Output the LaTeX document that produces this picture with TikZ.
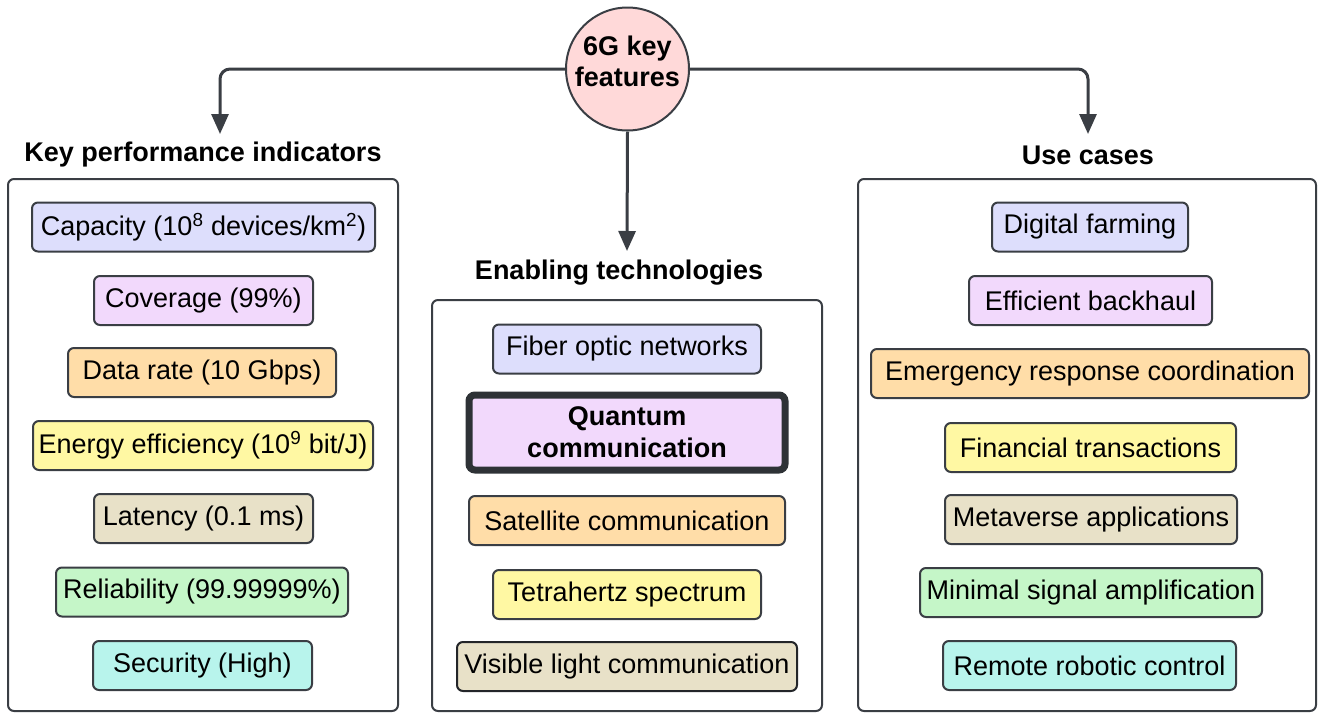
\documentclass[tikz,border=0pt]{standalone}
\usepackage{fontspec}
\setmainfont{Liberation Sans}
\usetikzlibrary{arrows.meta}

\definecolor{edge}{HTML}{3A3E44}
\definecolor{hubfill}{HTML}{FFD9D9}
\definecolor{cLav}{HTML}{DDDEFC}
\definecolor{cPink}{HTML}{F2D9FC}
\definecolor{cOrange}{HTML}{FFDDA8}
\definecolor{cYellow}{HTML}{FFF8A3}
\definecolor{cBeige}{HTML}{E8E1C8}
\definecolor{cGreen}{HTML}{C5F6C8}
\definecolor{cCyan}{HTML}{B8F4EC}

\tikzset{
  txt/.style={font=\fontsize{27}{31}\selectfont, text=black},
  heading/.style={font=\fontsize{27}{31}\selectfont\bfseries, text=black, inner sep=0pt},
  container/.style={draw=edge, line width=2pt, rounded corners=6pt, fill=white, inner sep=0pt},
  item/.style={txt, draw=edge, line width=2pt, rounded corners=6pt, inner sep=0pt, minimum height=49pt},
  conn/.style={draw=edge, line width=3pt, rounded corners=10pt, -{Triangle[width=17pt,length=20pt]}},
}

\begin{document}
\begin{tikzpicture}[x=1pt, y=-1pt]
\useasboundingbox (0,0) rectangle (1318,713);

% hub
\node[circle, draw=edge, line width=2pt, fill=hubfill, minimum size=123pt, inner sep=0pt] (hub) at (627.5,69) {};
\node[align=center, inner sep=0pt, font=\fontsize{27}{31}\selectfont\bfseries] (hubtext) at (627.5,61) {6G key\\features};

% containers
\node[container, minimum width=390pt, minimum height=532pt] (kpibox) at (203,445) {};
\node[container, minimum width=390pt, minimum height=411pt] (techbox) at (627,505.5) {};
\node[container, minimum width=458pt, minimum height=532pt] (usebox) at (1087,445) {};

% headings
\node[heading] (kpititle) at (203,155) {Key performance indicators};
\node[heading] (usetitle) at (1088,155) {Use cases};
\node[heading] (techtitle) at (619,273) {Enabling technologies};

% connectors
\coordinate (kpitip) at (220,134);
\coordinate (usetip) at (1088,134);
\coordinate (techtip) at (627,251);
\draw[conn] (hub.west) -| (kpitip);
\draw[conn] (hub.east) -| (usetip);
\draw[conn] (hub.south) -- (techtip);

% key performance indicators
\node[item, fill=cLav, minimum width=343pt] (k1) at (203.5,227) {Capacity (10\textsuperscript{8} devices/km\textsuperscript{2})};
\node[item, fill=cPink, minimum width=219pt] (k2) at (203.5,300.5) {Coverage (99\%)};
\node[item, fill=cOrange, minimum width=268pt] (k3) at (202,372.5) {Data rate (10 Gbps)};
\node[item, fill=cYellow, minimum width=340pt] (k4) at (203,445.5) {Energy efficiency (10\textsuperscript{9} bit/J)};
\node[item, fill=cBeige, minimum width=219pt] (k5) at (203.5,518.5) {Latency (0.1 ms)};
\node[item, fill=cGreen, minimum width=292pt] (k6) at (202,592) {Reliability (99.99999\%)};
\node[item, fill=cCyan, minimum width=219pt] (k7) at (202.5,665.5) {Security (High)};

% enabling technologies
\node[item, fill=cLav, minimum width=268pt] (t1) at (627,349) {Fiber optic networks};
\node[item, fill=cPink, draw=edge!80!black, line width=7pt, minimum width=316pt, minimum height=75pt,
      align=center, font=\fontsize{27}{32}\selectfont\bfseries] (t2) at (627,432.5) {Quantum\\communication};
\node[item, fill=cOrange, minimum width=316pt] (t3) at (627,520.5) {Satellite communication};
\node[item, fill=cYellow, minimum width=268pt] (t4) at (627,594.5) {Tetrahertz spectrum};
\node[item, fill=cBeige, draw=edge!60!black, minimum width=340pt] (t5) at (627,666.5) {Visible light communication};

% use cases
\node[item, fill=cLav, minimum width=196pt] (u1) at (1090,227) {Digital farming};
\node[item, fill=cPink, minimum width=243pt] (u2) at (1090.5,300.5) {Efficient backhaul};
\node[item, fill=cOrange, minimum width=438pt] (u3) at (1090,373.5) {Emergency response coordination};
\node[item, fill=cYellow, minimum width=291pt] (u4) at (1090.5,447.5) {Financial transactions};
\node[item, fill=cBeige, minimum width=292pt] (u5) at (1091,519.5) {Metaverse applications};
\node[item, fill=cGreen, minimum width=342pt] (u6) at (1091,592.5) {Minimal signal amplification};
\node[item, fill=cCyan, minimum width=293pt] (u7) at (1089.5,665.5) {Remote robotic control};
\end{tikzpicture}
\end{document}
